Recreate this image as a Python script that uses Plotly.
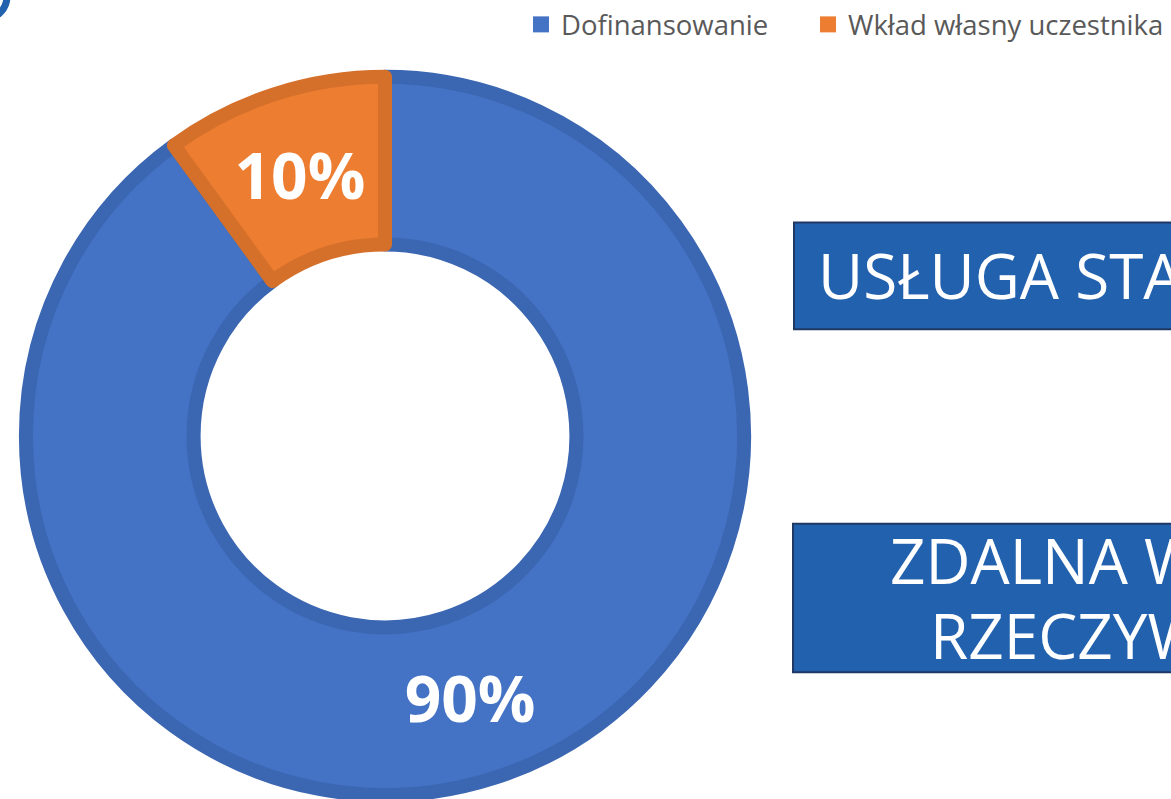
import plotly.graph_objects as go

W, H = 1171, 799

# data
labels = ["Dofinansowanie", "Wkład własny uczestnika"]
values = [90, 10]
fill_colors = ["#4472C4", "#ED7D31"]
edge_colors = ["#3B66B2", "#D5702B"]

box_lines = [["USŁUGA STA"], ["ZDALNA W", "RZECZYW"]]


def px(x):
    return x / W


def py(y):
    return (H - y) / H


fig = go.Figure()

# donut
fig.add_trace(go.Pie(
    labels=labels,
    values=values,
    hole=0.533,
    sort=False,
    direction="clockwise",
    rotation=0,
    textinfo="percent",
    textposition="inside",
    insidetextorientation="horizontal",
    textfont=dict(family="Open Sans", size=64, color="white", weight="bold"),
    marker=dict(colors=fill_colors, line=dict(color=edge_colors, width=14)),
    domain=dict(x=[px(25), px(745)], y=[py(795), py(75)]),
    hoverinfo="label+percent",
    showlegend=False,
))

# legend entries (square swatches, wide gap after the first one)
legend_widths = [242, None]
for name, col, lw in zip(labels, fill_colors, legend_widths):
    fig.add_trace(go.Scatter(
        x=[None], y=[None], mode="markers", name=name,
        marker=dict(symbol="square", size=16, color=col),
        legendwidth=lw, hoverinfo="skip",
    ))

shapes = [
    # two blue boxes on the right (cut off by the edge)
    dict(type="rect", xref="paper", yref="paper",
         x0=px(794), x1=px(1180), y0=py(328), y1=py(221),
         fillcolor="#2261AE", line=dict(color="#203864", width=2)),
    dict(type="rect", xref="paper", yref="paper",
         x0=px(793), x1=px(1180), y0=py(672), y1=py(523),
         fillcolor="#2261AE", line=dict(color="#203864", width=2)),
    # piece of a logo in the corner
    dict(type="circle", xref="paper", yref="paper",
         x0=px(-32), x1=px(7), y0=py(16), y1=py(-28),
         line=dict(color="#2161AE", width=7)),
]

box_font = dict(family="Open Sans", size=62, color="white")
annotations = [
    dict(text=box_lines[0][0], xref="paper", yref="paper", x=px(816), y=py(274),
         xanchor="left", yanchor="middle", showarrow=False, font=box_font),
    dict(text=box_lines[1][0], xref="paper", yref="paper", x=px(888), y=py(559),
         xanchor="left", yanchor="middle", showarrow=False, font=box_font),
    dict(text=box_lines[1][1], xref="paper", yref="paper", x=px(928), y=py(635),
         xanchor="left", yanchor="middle", showarrow=False, font=box_font),
]

fig.update_layout(
    width=W,
    height=H,
    margin=dict(l=0, r=0, t=0, b=0),
    paper_bgcolor="white",
    plot_bgcolor="white",
    showlegend=True,
    uniformtext=dict(minsize=64, mode="show"),
    xaxis=dict(visible=False),
    yaxis=dict(visible=False),
    legend=dict(
        orientation="h",
        x=px(521), xanchor="left",
        y=1.003, yanchor="top",
        font=dict(family="Open Sans", size=27.5, color="#595959"),
        bgcolor="rgba(0,0,0,0)",
    ),
    shapes=shapes,
    annotations=annotations,
)

fig.write_html(
    "out.html",
    config={"displayModeBar": False},
    post_script="document.body.style.margin='0';document.body.style.overflow='hidden';",
)
